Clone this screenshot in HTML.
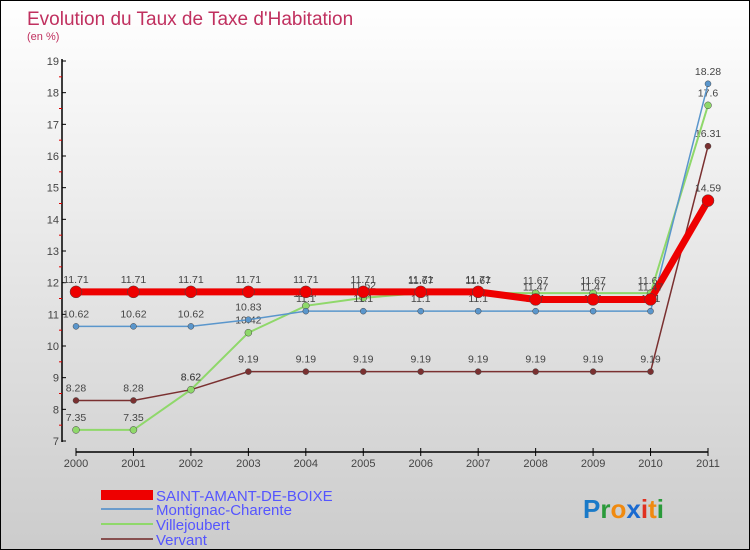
<!DOCTYPE html>
<html><head><meta charset="utf-8"><style>
body{margin:0}
#c{width:748px;height:548px;border:1px solid #000;background:linear-gradient(#fff,#ccc);position:relative;font-family:"Liberation Sans",sans-serif;overflow:hidden}
</style></head><body>
<div id="c">
<svg id="s" width="748" height="548" xmlns="http://www.w3.org/2000/svg">
<text x="26" y="24" font-size="19" fill="#c0305f">Evolution du Taux de Taxe d'Habitation</text>
<text x="26" y="39" font-size="11" fill="#c0305f">(en %)</text>
<g id="axes"></g><g id="series"></g>
<g>
<rect x="100" y="489" width="52" height="10" fill="#e00"/>
<text x="155" y="500" font-size="15" fill="#55f">SAINT-AMANT-DE-BOIXE</text>
<line x1="100" y1="508" x2="152" y2="508" stroke="#6a9ccc" stroke-width="2"/>
<text x="155" y="514" font-size="15" fill="#55f">Montignac-Charente</text>
<line x1="100" y1="523" x2="152" y2="523" stroke="#8fd86a" stroke-width="2"/>
<text x="155" y="529" font-size="15" fill="#55f">Villejoubert</text>
<line x1="100" y1="538" x2="152" y2="538" stroke="#875050" stroke-width="2"/>
<text x="155" y="544" font-size="15" fill="#55f">Vervant</text>
</g>
<text x="582" y="517" font-size="26" font-weight="bold"><tspan fill="#1a7ac8">P</tspan><tspan fill="#2a9a3a">r</tspan><tspan fill="#f08a10">o</tspan><tspan fill="#1a6ad0">x</tspan><tspan fill="#e03020">i</tspan><tspan fill="#f08a10">t</tspan><tspan fill="#2a9a3a">i</tspan></text>
</svg></div>
<script>
const years=[2000,2001,2002,2003,2004,2005,2006,2007,2008,2009,2010,2011];
const yTicks=[7,8,9,10,11,12,13,14,15,16,17,18,19];
const saintAmant=[11.71,11.71,11.71,11.71,11.71,11.71,11.71,11.71,11.47,11.47,11.47,14.59];
const montignac=[10.62,10.62,10.62,10.83,11.1,11.1,11.1,11.1,11.1,11.1,11.1,18.28];
const villejoubert=[7.35,7.35,8.62,10.42,11.27,11.52,11.67,11.67,11.67,11.67,11.67,17.6];
const vervant=[8.28,8.28,8.62,9.19,9.19,9.19,9.19,9.19,9.19,9.19,9.19,16.31];
const NS="http://www.w3.org/2000/svg";
const X=i=>75+i*(707-75)/(years.length-1);
const Y=v=>440-(v-7)*(380/12);
function mk(t,a,p){const e=document.createElementNS(NS,t);for(const k in a)e.setAttribute(k,a[k]);p.appendChild(e);return e;}
const ax=document.getElementById('axes');
let e=mk('line',{x1:61,y1:58,x2:61,y2:441,stroke:'#000','stroke-width':1.5},ax);


e=mk('line',{x1:75,y1:451,x2:707,y2:451,stroke:'#000','stroke-width':1.5},ax);


yTicks.forEach(v=>{mk('line',{x1:61,y1:Y(v),x2:65,y2:Y(v),stroke:'#000'},ax);
 if(v<19)mk('line',{x1:58,y1:Y(v+0.5),x2:61,y2:Y(v+0.5),stroke:'#d00'},ax);
 const t=mk('text',{x:58,y:Y(v)+4,'font-size':11,fill:'#444','text-anchor':'end'},ax);t.textContent=v;
 
 });
years.forEach((y,i)=>{mk('line',{x1:X(i),y1:447,x2:X(i),y2:455,stroke:'#000'},ax);
 const t=mk('text',{x:X(i),y:466,'font-size':11,fill:'#444','text-anchor':'middle'},ax);t.textContent=y;
 
 });
const sg=document.getElementById('series');
function series(d,col,w,r,name){
 const p=mk('polyline',{points:d.map((v,i)=>X(i)+','+Y(v)).join(' '),fill:'none',stroke:col,'stroke-width':w},sg);
 
 
 d.forEach((v,i)=>{const c=mk('circle',{cx:X(i),cy:Y(v),r:r,fill:col,stroke:'#444','stroke-width':0.5},sg);
  
  
  const t=mk('text',{x:X(i),y:Y(v)-9,'font-size':10.5,fill:'#444','text-anchor':'middle'},sg);t.textContent=v;
  
  });
}
series(vervant,'#7a3030',1.5,3,'vervant');
series(villejoubert,'#8fd86a',2,3.5,'villejoubert');
series(montignac,'#5a96cc',1.5,3,'montignac');
series(saintAmant,'#ee0000',7,6,'saint-amant');
</script>
</body></html>
